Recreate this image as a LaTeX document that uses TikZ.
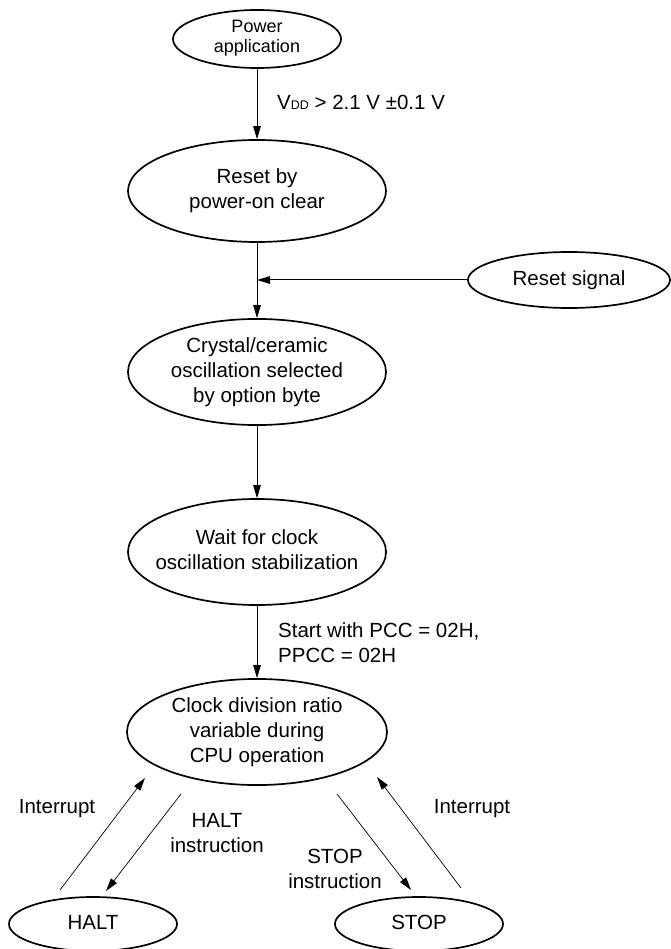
\documentclass[tikz,border=0pt]{standalone}
\usepackage{fontspec}
\setmainfont{Liberation Sans}
\usetikzlibrary{arrows.meta,shapes.geometric}
\newcommand{\mlines}[1]{\makebox[0pt]{\begin{tabular}{@{}c@{}}#1\end{tabular}}}
\begin{document}
\begin{tikzpicture}[x=1pt,y=-1pt,
  state/.style={draw,ellipse,line width=1.7pt,inner sep=0pt,
    font=\fontsize{20.5}{25}\selectfont},
  conn/.style={line width=1pt,-{Triangle[length=13pt,width=7.5pt]}},
  diag/.style={line width=0.7pt,-{Triangle[length=13pt,width=7.5pt]}},
  lbl/.style={inner sep=0pt,font=\fontsize{20.5}{25}\selectfont}]
\useasboundingbox (0,0) rectangle (670,949);
% states
\node[state,minimum width=168pt,minimum height=58pt,font=\fontsize{18}{20}\selectfont] (power) at (257,39) {\mlines{Power\\application}};
\node[state,minimum width=258pt,minimum height=102pt] (reset) at (257,191) {\mlines{Reset by\\power-on clear}};
\node[state,minimum width=202pt,minimum height=56pt] (sig) at (569,280) {\mlines{Reset signal}};
\node[state,minimum width=258pt,minimum height=106pt] (osc) at (257,372) {\mlines{Crystal/ceramic\\oscillation selected\\by option byte}};
\node[state,minimum width=258pt,minimum height=106pt] (wait) at (257,552) {\mlines{Wait for clock\\oscillation stabilization}};
\node[state,minimum width=260pt,minimum height=106pt] (clock) at (257,732) {\mlines{Clock division ratio\\variable during\\CPU operation}};
\node[state,minimum width=168pt,minimum height=54pt] (halt) at (93,924) {\mlines{HALT}};
\node[state,minimum width=168pt,minimum height=54pt] (stop) at (419,924) {\mlines{STOP}};
% vertical flow
\coordinate (join) at (257,280);
\draw[conn] (power) -- (reset);
\draw[conn] (reset) -- (osc);
\draw[conn] (sig) -- (join);
\draw[conn] (osc) -- (wait);
\draw[conn] (wait) -- (clock);
% diagonal transitions
\coordinate (intLa) at (60,890);  \coordinate (intLb) at (145,778);
\coordinate (haltA) at (181,794); \coordinate (haltB) at (106,891);
\coordinate (stopA) at (337,794); \coordinate (stopB) at (411,890);
\coordinate (intRa) at (461,888); \coordinate (intRb) at (377,777);
\draw[diag] (intLa) -- (intLb);
\draw[diag] (haltA) -- (haltB);
\draw[diag] (stopA) -- (stopB);
\draw[diag] (intRa) -- (intRb);
% labels
\node[lbl,anchor=base west] (vdd) at (277,110) {V{\fontsize{12.5}{13}\selectfont DD} > 2.1 V ±0.1 V};
\node[lbl,anchor=base west] (start) at (278,637) {\begin{tabular}[t]{@{}l@{}}Start with PCC = 02H,\\PPCC = 02H\end{tabular}};
\node[lbl,anchor=base] (intL) at (57,813) {Interrupt};
\node[lbl,anchor=base] (haltlbl) at (217,827) {\begin{tabular}[t]{@{}c@{}}HALT\\instruction\end{tabular}};
\node[lbl,anchor=base] (stoplbl) at (335,863) {\begin{tabular}[t]{@{}c@{}}STOP\\instruction\end{tabular}};
\node[lbl,anchor=base] (intR) at (472,813) {Interrupt};
\end{tikzpicture}
\end{document}
